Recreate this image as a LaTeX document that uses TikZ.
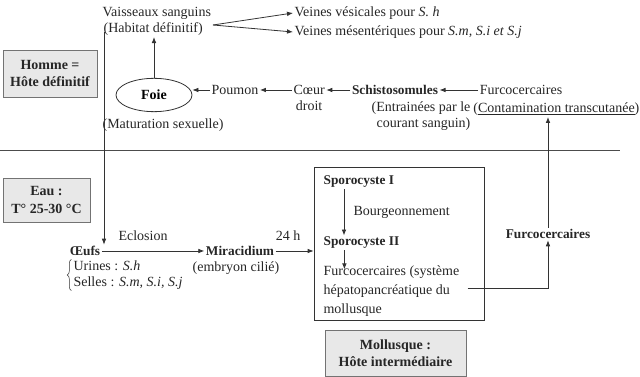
\documentclass[tikz,border=0pt]{standalone}
\usepackage{fontspec}
\setmainfont{Liberation Serif}
\usetikzlibrary{arrows.meta,positioning,shapes.geometric,decorations.pathreplacing}

\begin{document}
\begin{tikzpicture}[
    x=0.75pt, y=-0.75pt,
    txt/.style={inner sep=1pt, text=black!85, font=\fontsize{10.5}{12}\selectfont},
    bold/.style={txt, font=\fontsize{10}{12}\selectfont\bfseries},
    host/.style={draw=black!55, fill=black!9, align=center, inner sep=1pt, text=black!85, font=\fontsize{10.5}{13}\selectfont\bfseries},
    link/.style={-{Latex[length=4.5pt,width=3.5pt]}, draw=black!80, line width=0.6pt}
]
\useasboundingbox (0,0) rectangle (640,377);

% definitive host
\node[host, minimum width=70.5pt, minimum height=35.25pt] (homme) at (50,73.5) {Homme =\\Hôte définitif};
\node[txt, anchor=west] (vais) at (101,13) {Vaisseaux sanguins};
\node[txt, anchor=west] (habitat) at (102,29) {(Habitat définitif)};
\node[txt, anchor=west] (vves) at (293,13) {Veines vésicales pour \textit{S. h}};
\node[txt, anchor=west] (vmes) at (293,32) {Veines mésentériques pour \textit{S.m, S.i et S.j}};
\node[ellipse, draw=black!80, line width=0.6pt, minimum width=57pt, minimum height=25pt, inner sep=0pt, font=\fontsize{10.5}{12}\selectfont\bfseries] (foie) at (154,95) {Foie};
\node[txt, anchor=west] (matur) at (101,125) {(Maturation sexuelle)};
\node[txt] (poumon) at (235,90) {Poumon};
\node[txt, anchor=west] (coeur) at (292,90) {Cœur};
\node[txt, below=2.5pt of coeur] (droit) {droit};
\node[bold] (schisto) at (395,90) {Schistosomules};
\node[txt, align=right, anchor=east] (entr) at (472,116) {(Entrainées par le\\courant sanguin)};
\node[txt] (furco) at (521,90) {Furcocercaires};
\node[txt, anchor=east] (contam) at (641,109) {(\underline{Contamination transcutanée})};

\coordinate (fork) at (213,25);
\draw[link] (fork) -- (vves.west);
\draw[link] (fork) -- (vmes.west);
\draw[link] (foie.north) -- (foie.north |- habitat.south);
\draw[link] (poumon.west) -- (poumon.west -| foie.east);
\draw[link] (coeur.west) -- (poumon.east);
\draw[link] (schisto.west) -- (coeur.east);
\draw[link] (furco.west) -- (schisto.east);

\draw[draw=black!70, line width=0.6pt] (0,150) -- (620,150);

% water
\node[host, minimum width=65.25pt, minimum height=33pt] (eau) at (46.5,200) {Eau :\\T° 25-30 °C};
\node[bold] (oeufs) at (85,251) {Œufs};
\node[txt, anchor=west, align=left, font=\fontsize{10.5}{11.5}\selectfont] (excr) at (72,275) {Urines : \textit{S.h}\\Selles : \textit{S.m, S.i, S.j}};
\draw[black!80, decorate, decoration={brace, amplitude=3pt}] ([xshift=-0.5pt]excr.south west) -- ([xshift=-0.5pt]excr.north west);
\node[txt] (eclos) at (143,236) {Eclosion};
\node[bold] (mira) at (240,251) {Miracidium};
\node[txt] (embr) at (236,268) {(embryon cilié)};
\node[txt] (h24) at (288,236) {24 h};

\coordinate (drop) at (104,32);
\draw[link] (drop) -- (drop |- oeufs.north);
\draw[link] (oeufs.east) -- (oeufs.east -| mira.west);

% intermediate host
\node[draw=black!80, line width=0.6pt, minimum width=127.5pt, minimum height=114.75pt, inner sep=0pt] (snail) at (399,243.5) {};
\node[bold, anchor=west] (spo1) at (322,182) {Sporocyste I};
\node[txt, anchor=west] (bourg) at (352,212) {Bourgeonnement};
\node[bold, anchor=west] (spo2) at (322,243) {Sporocyste II};
\node[txt, anchor=west, align=left, font=\fontsize{10.5}{14.25}\selectfont] (furcin) at (322,291) {Furcocercaires (système\\hépatopancréatique du\\mollusque};
\node[host, minimum width=105.75pt, minimum height=34.5pt] (hote) at (395.5,353) {Mollusque :\\Hôte intermédiaire};
\node[bold] (furc2) at (548,234) {Furcocercaires};

\draw[link] (mira.east) -- (mira.east -| snail.west);
\draw[link] ([xshift=16.5pt]spo1.south west) -- ([xshift=16.5pt]spo2.north west);
\draw[link] ([xshift=16.8pt]spo2.south west) -- ([xshift=16.8pt,yshift=-4pt]furcin.north west);
\draw[link] ([xshift=5pt,yshift=2pt]furcin.east) -| (furc2.south);
\draw[link] (furc2.north) -- (furc2.north |- contam.south);
\end{tikzpicture}
\end{document}
